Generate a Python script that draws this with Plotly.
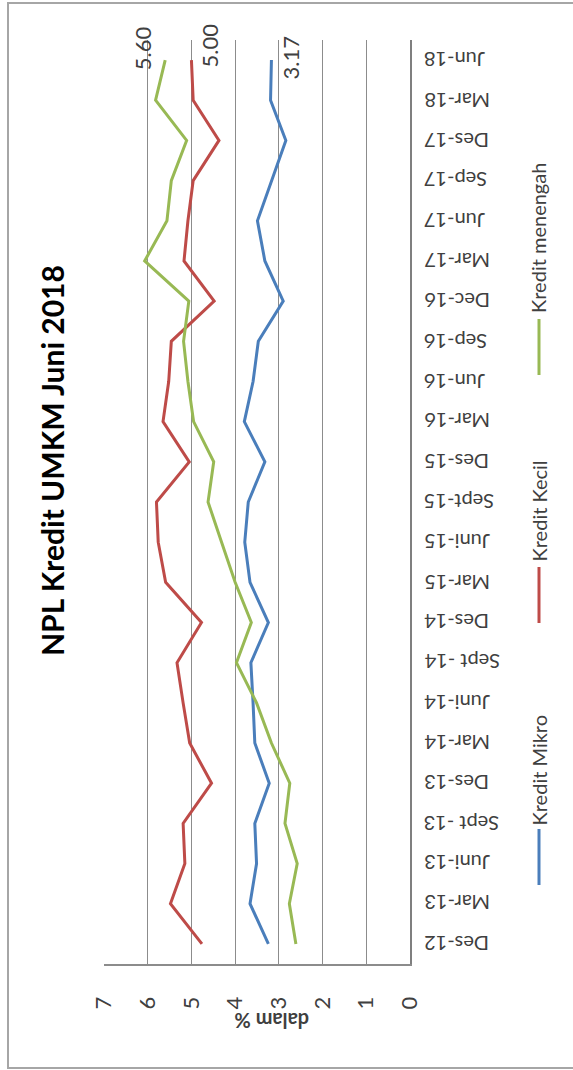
import plotly.graph_objects as go

# Quarterly NPL ratios (%) for micro, small and medium enterprise credit
periods = ["Des-12", "Mar-13", "Juni-13", "Sept -13", "Des-13", "Mar-14", "Juni-14",
           "Sept -14", "Des-14", "Mar-15", "Juni-15", "Sept-15", "Des-15", "Mar-16",
           "Jun-16", "Sep-16", "Dec-16", "Mar-17", "Jun-17", "Sep-17", "Des-17",
           "Mar-18", "Jun-18"]
kredit_mikro = [3.24, 3.66, 3.51, 3.55, 3.22, 3.55, 3.59, 3.64, 3.24, 3.66, 3.78, 3.70,
                3.32, 3.79, 3.59, 3.47, 2.90, 3.32, 3.49, 3.17, 2.84, 3.19, 3.17]
kredit_kecil = [4.76, 5.48, 5.15, 5.19, 4.54, 5.04, 5.19, 5.33, 4.77, 5.59, 5.76, 5.80,
                5.05, 5.65, 5.52, 5.46, 4.48, 5.17, 5.08, 4.96, 4.37, 4.96, 5.00]
kredit_menengah = [2.61, 2.76, 2.58, 2.86, 2.75, 3.17, 3.51, 3.97, 3.63, 4.00, 4.31, 4.62,
                   4.49, 4.95, 5.08, 5.18, 5.06, 6.07, 5.56, 5.46, 5.11, 5.82, 5.60]
value_ticks = [0, 1, 2, 3, 4, 5, 6, 7]

series = [
    ("Kredit Mikro", kredit_mikro, "#4A7EBB"),
    ("Kredit Kecil", kredit_kecil, "#BE4B48"),
    ("Kredit menengah", kredit_menengah, "#98B954"),
]

W, H = 573, 1070
L, R, T, B = 104, 163, 40, 106
PW, PH = W - L - R, H - T - B
FONT = "Lato, 'Open Sans', sans-serif"
TXT = "#404040"
GRID = "#8C8C8C"


def px_x(p):
    return (p - L) / PW


def px_y(p):
    return (H - B - p) / PH


fig = go.Figure()
for name, vals, color in series:
    fig.add_trace(go.Scatter(x=vals, y=periods, mode="lines", name=name,
                             line=dict(color=color, width=3), showlegend=False))

annotations = []
shapes = []

# category labels, upside down beside the category axis
for p in periods:
    annotations.append(dict(x=1, xref="paper", y=p, yref="y", text=p, showarrow=False,
                            textangle=180, xanchor="left", yanchor="middle", xshift=12,
                            font=dict(family=FONT, size=20, color=TXT)))

# end-of-series value labels
last = len(periods) - 1
label_offsets = {"Kredit Mikro": (19, 2), "Kredit Kecil": (18, 15), "Kredit menengah": (-23, 12)}
for name, vals, color in series:
    dx, dy = label_offsets[name]
    annotations.append(dict(x=vals[last], y=periods[last], xref="x", yref="y",
                            text=f"{vals[last]:.2f}", showarrow=False, textangle=-90,
                            xshift=dx, yshift=dy,
                            font=dict(family=FONT, size=22, color=TXT)))

# title
annotations.append(dict(x=px_x(52), y=px_y(461), xref="paper", yref="paper",
                        text="<b>NPL Kredit UMKM Juni 2018</b>", showarrow=False,
                        textangle=-90, xanchor="center", yanchor="middle",
                        font=dict(family=FONT, size=30, color="#000000")))

# value axis title
annotations.append(dict(x=px_x(272), y=px_y(1021), xref="paper", yref="paper",
                        text="<b>dalam %</b>", showarrow=False, textangle=180,
                        xanchor="center", yanchor="middle",
                        font=dict(family=FONT, size=20, color=TXT)))

# legend: line swatch plus rotated label
legend_pos = {
    "Kredit Mikro": (885, 828),
    "Kredit Kecil": (623, 564),
    "Kredit menengah": (375, 315),
}
for name, vals, color in series:
    y0, ytxt = legend_pos[name]
    shapes.append(dict(type="line", xref="paper", yref="paper",
                       x0=px_x(539), x1=px_x(539), y0=px_y(y0), y1=px_y(y0 - 56),
                       line=dict(color=color, width=3)))
    annotations.append(dict(x=px_x(538), y=px_y(ytxt), xref="paper", yref="paper",
                            text=name, showarrow=False, textangle=-90,
                            xanchor="center", yanchor="bottom",
                            font=dict(family=FONT, size=20, color=TXT)))

# outer chart border
shapes.append(dict(type="rect", xref="paper", yref="paper", layer="below",
                   x0=px_x(8), x1=px_x(575), y0=px_y(1068), y1=px_y(3),
                   line=dict(color="#A6A6A6", width=2)))

fig.update_layout(
    width=W, height=H,
    margin=dict(l=L, r=R, t=T, b=B),
    paper_bgcolor="white", plot_bgcolor="white",
    font=dict(family=FONT, color=TXT),
    annotations=annotations, shapes=shapes,
    xaxis=dict(range=[7, 0], tickvals=value_ticks, showgrid=True, gridcolor=GRID,
               gridwidth=1, zeroline=False, showline=True, linecolor=GRID, linewidth=2,
               tickangle=-90, ticks="", ticklabelstandoff=22,
               tickfont=dict(family=FONT, size=22, color=TXT), mirror=False),
    yaxis=dict(type="category", categoryorder="array", categoryarray=periods,
               range=[-0.5, len(periods) - 0.5], side="right", showgrid=False,
               showline=True, linecolor="#7F7F7F", linewidth=2, showticklabels=False,
               ticks="", zeroline=False),
)

fig.write_html("out.html")
